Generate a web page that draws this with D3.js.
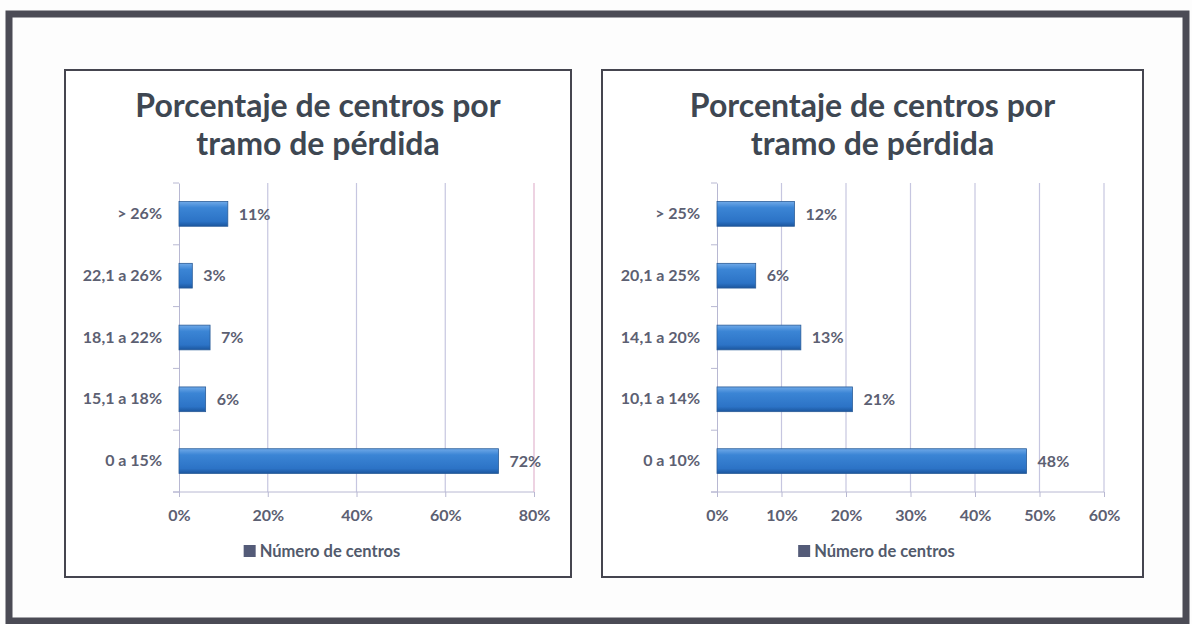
<!DOCTYPE html>
<html>
<head>
<meta charset="utf-8">
<script src="https://cdn.jsdelivr.net/npm/d3@7"></script>
<style>
  body { margin: 0; background: #fdfdfd; }
  text { font-family: Lato, "Open Sans", sans-serif; font-weight: 700; }
</style>
</head>
<body>
<div id="chart"></div>
<script>
// data
var chartTitle = ["Porcentaje de centros por", "tramo de pérdida"];
var legendLabel = "Número de centros";

var leftCategories = ["0 a 15%", "15,1 a 18%", "18,1 a 22%", "22,1 a 26%", "> 26%"];
var leftValues = [72, 6, 7, 3, 11];
var leftTicks = [0, 20, 40, 60, 80];

var rightCategories = ["0 a 10%", "10,1 a 14%", "14,1 a 20%", "20,1 a 25%", "> 25%"];
var rightValues = [48, 21, 13, 6, 12];
var rightTicks = [0, 10, 20, 30, 40, 50, 60];

var width = 1192;
var height = 624;

var svg = d3.select("#chart")
  .append("svg")
  .attr("width", width)
  .attr("height", height);

var defs = svg.append("defs");
var grad = defs.append("linearGradient")
  .attr("id", "barGrad")
  .attr("x1", 0).attr("y1", 0).attr("x2", 0).attr("y2", 1);
grad.append("stop").attr("offset", "0%").attr("stop-color", "#6fa9e8");
grad.append("stop").attr("offset", "25%").attr("stop-color", "#3b85d5");
grad.append("stop").attr("offset", "80%").attr("stop-color", "#2c73c6");
grad.append("stop").attr("offset", "100%").attr("stop-color", "#1b569e");

// outer frame
svg.append("rect")
  .attr("x", 9).attr("y", 14)
  .attr("width", 1177).attr("height", 607)
  .attr("fill", "#fdfdfd")
  .attr("stroke", "#4b4b55")
  .attr("stroke-width", 7);

function drawChart(panel, plot, categories, values, ticks, pinkLast) {
  var g = svg.append("g");

  g.append("rect")
    .attr("x", panel.x).attr("y", panel.y)
    .attr("width", panel.w).attr("height", panel.h)
    .attr("fill", "#ffffff")
    .attr("stroke", "#45454f")
    .attr("stroke-width", 2);

  var cx = panel.x + panel.w / 2;
  g.selectAll(".title")
    .data(chartTitle)
    .enter().append("text")
    .attr("class", "title")
    .attr("x", cx)
    .attr("y", (d, i) => 117 + i * 38)
    .attr("text-anchor", "middle")
    .attr("font-size", "32px")
    .attr("fill", "#3e4752")
    .text(d => d);

  var x = d3.scaleLinear()
    .domain([0, d3.max(ticks)])
    .range([plot.x0, plot.x1]);

  var y = d3.scaleBand()
    .domain(categories)
    .range([plot.y1, plot.y0])
    .paddingInner(0.6)
    .paddingOuter(0.3);

  // vertical gridlines
  g.selectAll(".grid")
    .data(ticks.slice(1))
    .enter().append("line")
    .attr("x1", d => x(d)).attr("x2", d => x(d))
    .attr("y1", plot.y0).attr("y2", plot.y1)
    .attr("stroke", (d, i) => (pinkLast && i == ticks.length - 2) ? "#e2b6cf" : "#c6c6e0")
    .attr("stroke-width", 1.2);

  // bottom axis
  var xAxis = g.append("g")
    .attr("transform", "translate(0," + plot.y1 + ")")
    .call(d3.axisBottom(x).tickValues(ticks).tickSize(5).tickPadding(13).tickFormat(d => d + "%"));
  xAxis.select(".domain").attr("stroke", "#b8b8d2").attr("d", "M" + (plot.x0 - 6) + ",0H" + plot.x1);
  xAxis.selectAll(".tick line").attr("stroke", "#b8b8d2");
  xAxis.selectAll("text")
    .attr("font-size", "16px")
    .attr("font-family", "Lato, sans-serif")
    .attr("fill", "#5c6072");

  // left axis
  var yAxis = g.append("g")
    .attr("transform", "translate(" + plot.x0 + ",0)")
    .call(d3.axisLeft(y).tickSize(0).tickPadding(17));
  yAxis.select(".domain").attr("stroke", "#b8b8d2");
  yAxis.selectAll("text")
    .attr("font-size", "16px")
    .attr("font-family", "Lato, sans-serif")
    .attr("fill", "#5c6072");

  var bounds = categories.map(c => y(c) + y.bandwidth() + (y.step() - y.bandwidth()) / 2);
  bounds.push(plot.y0);
  g.selectAll(".ytick")
    .data(bounds)
    .enter().append("line")
    .attr("x1", plot.x0 - 6).attr("x2", plot.x0)
    .attr("y1", d => d).attr("y2", d => d)
    .attr("stroke", "#b8b8d2");

  // bars
  g.selectAll(".bar")
    .data(values)
    .enter().append("rect")
    .attr("x", x(0))
    .attr("y", (d, i) => y(categories[i]))
    .attr("width", d => x(d) - x(0))
    .attr("height", y.bandwidth())
    .attr("fill", "url(#barGrad)")
    .attr("stroke", "#2a5c98")
    .attr("stroke-width", 0.8);

  g.selectAll(".val")
    .data(values)
    .enter().append("text")
    .attr("x", d => x(d) + 11)
    .attr("y", (d, i) => y(categories[i]) + y.bandwidth() / 2)
    .attr("dy", "0.36em")
    .attr("font-size", "16px")
    .attr("fill", "#5c6072")
    .text(d => d + "%");

  // legend
  var legend = g.append("g");
  var lt = legend.append("text")
    .attr("x", 16)
    .attr("y", 551)
    .attr("dy", "0.36em")
    .attr("font-size", "16.5px")
    .attr("fill", "#525a6c")
    .text(legendLabel);
  var tw = lt.node().getComputedTextLength();
  legend.append("rect")
    .attr("x", 0).attr("y", 545)
    .attr("width", 12).attr("height", 12)
    .attr("fill", "#545b78");
  legend.attr("transform", "translate(" + (cx - (16 + tw) / 2 + 4) + ",0)");
}

drawChart({x: 65, y: 70, w: 506, h: 507},
  {x0: 179, x1: 534, y0: 183, y1: 492},
  leftCategories, leftValues, leftTicks, true);

drawChart({x: 602, y: 70, w: 541, h: 507},
  {x0: 717, x1: 1104, y0: 183, y1: 492},
  rightCategories, rightValues, rightTicks, false);
</script>
</body>
</html>
